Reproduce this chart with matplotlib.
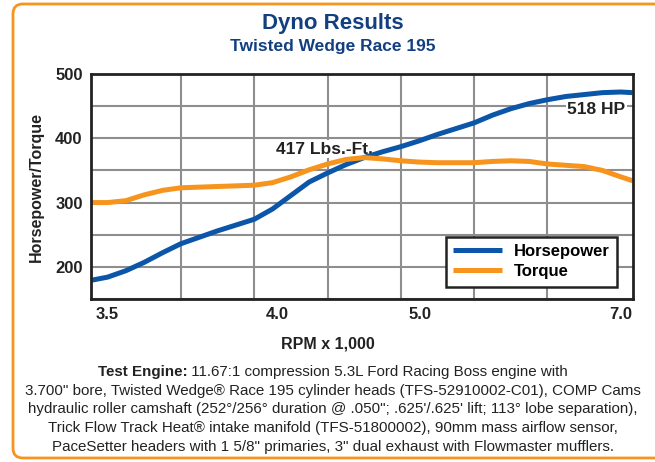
import matplotlib
matplotlib.use('Agg')
import matplotlib.pyplot as plt
from matplotlib.patches import FancyBboxPatch

# x positions are in gridline units (one unit = one vertical gridline)
pos = [-0.23, 0, 0.25, 0.5, 0.75, 1.0, 1.25, 1.5, 1.75, 2.0, 2.25, 2.5, 2.75,
       3.0, 3.25, 3.5, 3.75, 4.0, 4.25, 4.5, 4.75, 5.0, 5.25, 5.5, 5.75, 6.0,
       6.25, 6.5, 6.75, 7.0, 7.16]
horsepower = [179, 184, 194, 207, 222, 236, 246, 256, 265, 274, 290, 311, 332,
              346, 359, 370, 379, 387, 396, 406, 415, 424, 436, 446, 454, 460,
              465, 468, 471, 472, 471]
torque = [300, 300, 303, 312, 319, 323, 324, 325, 326, 327, 331, 340, 351,
          360, 367, 370, 368, 365, 363, 362, 362, 362, 364, 365, 364, 360,
          358, 356, 350, 340, 334]
tick_pos = [0, 2.31, 4.26, 7.0]
tick_labels = ['3.5', '4.0', '5.0', '7.0']

footer_bold = 'Test Engine:'
footer_lines = [
    ' 11.67:1 compression 5.3L Ford Racing Boss engine with',
    '3.700" bore, Twisted Wedge\u00ae Race 195 cylinder heads (TFS-52910002-C01), COMP Cams',
    'hydraulic roller camshaft (252\u00b0/256\u00b0 duration @ .050"; .625\'/.625\' lift; 113\u00b0 lobe separation),',
    'Trick Flow Track Heat\u00ae intake manifold (TFS-51800002), 90mm mass airflow sensor,',
    'PaceSetter headers with 1 5/8" primaries, 3" dual exhaust with Flowmaster mufflers.',
]

blue = '#0b56a8'
orange = '#f7941d'
navy = '#123f80'
ink = '#222222'
plt.rcParams['font.family'] = ['Liberation Sans', 'DejaVu Sans']

fig = plt.figure(figsize=(6.55, 4.62), dpi=100)
W, H = 655, 462

# orange rounded frame
frame = FancyBboxPatch((13 / W, 4 / H), 1.1, 454 / H,
                       boxstyle='round,pad=0,rounding_size=0.015',
                       mutation_aspect=W / H,
                       transform=fig.transFigure, facecolor='none',
                       edgecolor=orange, linewidth=2, zorder=-1)
fig.patches.append(frame)

fig.text(333 / W, 1 - 23 / H, 'Dyno Results', ha='center', va='center',
         fontsize=16, fontweight='bold', color=navy)
fig.text(333 / W, 1 - 47 / H, 'Twisted Wedge Race 195', ha='center', va='center',
         fontsize=12.5, fontweight='bold', color=navy)

ax = fig.add_axes([91 / W, 1 - 299 / H, 541.5 / W, 225 / H])
ax.plot(pos, horsepower, color=blue, linewidth=3.6, label='Horsepower',
        solid_capstyle='butt', solid_joinstyle='round', zorder=3)
ax.plot(pos, torque, color=orange, linewidth=3.6, label='Torque',
        solid_capstyle='butt', solid_joinstyle='round', zorder=3)

ax.set_xlim(-0.226, 7.16)
ax.set_ylim(150, 500)
ax.set_xticks(range(8), minor=True)
ax.set_xticks(tick_pos)
ax.set_xticklabels(tick_labels)
ax.set_yticks([150, 250, 350, 450], minor=True)
ax.set_yticks([200, 300, 400, 500])
ax.grid(True, which='both', color='#8e8e8e', linewidth=1.5, zorder=1)
ax.grid(False, which='major', axis='x')
ax.tick_params(which='both', length=0)
ax.tick_params(axis='y', pad=6, labelsize=12)
ax.tick_params(axis='x', pad=6, labelsize=12)
for lab in ax.get_xticklabels() + ax.get_yticklabels():
    lab.set_fontweight('bold')
    lab.set_color(ink)
for sp in ax.spines.values():
    sp.set_linewidth(2)
    sp.set_color(ink)
    sp.set_zorder(4)

ax.set_ylabel('Horsepower/Torque', fontsize=11.5, fontweight='bold',
              color=ink, labelpad=8)
fig.text(328 / W, 1 - 344 / H, 'RPM x 1,000', ha='center', va='center',
         fontsize=11.5, fontweight='bold', color=ink)

ax.text(3.62, 383, '417 Lbs.-Ft.', ha='right', va='center', fontsize=12.5,
        fontweight='bold', color=ink, zorder=2,
        bbox=dict(facecolor='white', edgecolor='none', pad=1))
ax.text(7.06, 444, '518 HP', ha='right', va='center', fontsize=12.5,
        fontweight='bold', color=ink, zorder=2,
        bbox=dict(facecolor='white', edgecolor='none', pad=1))

leg = ax.legend(loc='lower right', bbox_to_anchor=(0.971, 0.055),
                borderaxespad=0, fancybox=False, framealpha=1,
                edgecolor=ink, handlelength=2.9, handletextpad=0.7,
                borderpad=0.45, labelspacing=0.3,
                prop={'weight': 'bold', 'size': 12})
leg.get_frame().set_linewidth(1.8)
leg.set_zorder(5)

# footer text, first line has a bold lead-in
renderer = fig.canvas.get_renderer()
y0 = 372
fs = 10.9
tb = fig.text(0, 1 - y0 / H, footer_bold, ha='left', va='center',
              fontsize=fs, fontweight='bold', color=ink)
tr = fig.text(0, 1 - y0 / H, footer_lines[0], ha='left', va='center',
              fontsize=fs, color=ink)
wb = tb.get_window_extent(renderer).width
wr = tr.get_window_extent(renderer).width
start = 333 - (wb + wr) / 2
tb.set_x(start / W)
tr.set_x((start + wb) / W)
for i, line in enumerate(footer_lines[1:]):
    fig.text(333 / W, 1 - (y0 + 18.7 * (i + 1)) / H, line, ha='center',
             va='center', fontsize=fs, color=ink)

fig.savefig('out.png', dpi=100)
